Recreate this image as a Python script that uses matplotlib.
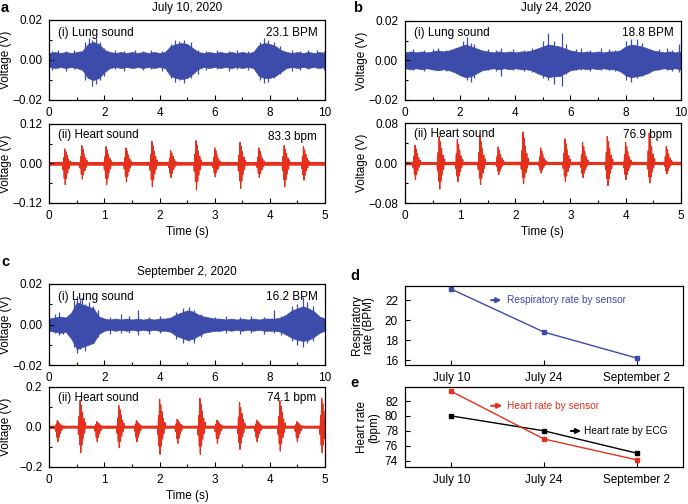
import numpy as np
import matplotlib
matplotlib.use("Agg")
import matplotlib.pyplot as plt
from matplotlib.ticker import MultipleLocator

plt.rcParams['font.family'] = ['Liberation Sans', 'DejaVu Sans']
plt.rcParams['font.size'] = 8.5
plt.rcParams['axes.linewidth'] = 0.9

BLUE = '#3D4BAA'
RED = '#E5301E'

# ---------------- data ----------------
env_t = np.round(np.arange(0, 10.01, 0.2), 2)  # envelope sample times (s)

lung_a_up = [.0035, .004, .0035, .004, .0035, .004, .0045, .008, .009, .008, .005, .004, .0035, .004, .0035, .004,
             .0035, .004, .0035, .004, .0035, .004, .007, .008, .0085, .008, .006, .004, .0035, .004, .0035, .004,
             .0035, .004, .0035, .004, .0035, .004, .0075, .0085, .008, .007, .005, .004, .0035, .004, .0035, .004,
             .0035, .004, .0035]
lung_a_dn = [-.0035, -.004, -.0035, -.004, -.0035, -.004, -.005, -.009, -.010, -.009, -.006, -.004, -.0035, -.004,
             -.0035, -.004, -.0035, -.004, -.0035, -.004, -.0035, -.004, -.008, -.009, -.0095, -.009, -.007, -.0045,
             -.0035, -.004, -.0035, -.004, -.0035, -.004, -.0035, -.004, -.0035, -.004, -.008, -.009, -.009, -.008,
             -.006, -.004, -.0035, -.004, -.0035, -.004, -.0035, -.004, -.0035]
lung_a_spk_t = [0.1, 0.3, 0.6, 0.9, 1.3, 1.45, 1.55, 1.7, 1.85, 2.0, 2.4, 2.7, 3.1, 3.4, 3.7, 4.1, 4.4, 4.55, 4.7,
                4.9, 5.15, 5.4, 5.7, 6.1, 6.5, 6.8, 7.2, 7.65, 7.8, 7.95, 8.15, 8.35, 8.8, 9.1, 9.4, 9.7, 9.95]
lung_a_spk_hi = [.0045, .005, .0045, .005, .009, .011, .010, .011, .009, .006, .005, .0045, .005, .0045, .005, .0045,
                 .008, .010, .0095, .010, .009, .005, .0045, .005, .0045, .005, .0045, .009, .011, .010, .009, .007,
                 .005, .0045, .005, .005, .0045]
lung_a_spk_lo = [-.005, -.004, -.0055, -.0045, -.010, -.008, -.013, -.012, -.010, -.008, -.0045, -.0055, -.004,
                 -.005, -.0045, -.0055, -.009, -.011, -.010, -.0115, -.009, -.007, -.005, -.0045, -.0055, -.0045,
                 -.005, -.010, -.0115, -.011, -.009, -.007, -.0055, -.005, -.0045, -.004, -.005]

lung_b_up = [.004, .0045, .004, .0045, .004, .0045, .005, .0045, .005, .006, .007, .008, .007, .006, .005, .0045, .004,
             .0045, .004, .0045, .004, .0045, .0045, .005, .006, .007, .008, .0075, .007, .006, .005, .0045, .004, .0045,
             .004, .0045, .004, .0045, .0045, .005, .007, .008, .0075, .007, .006, .005, .0045, .004, .0045, .004, .0045]
lung_b_dn = [-.004, -.0045, -.004, -.0045, -.004, -.0045, -.005, -.0045, -.005, -.006, -.0075, -.0085, -.008, -.0065,
             -.005, -.0045, -.004, -.0045, -.004, -.0045, -.004, -.0045, -.0045, -.005, -.0065, -.0075, -.0085, -.008,
             -.008, -.0065, -.005, -.0045, -.004, -.0045, -.004, -.0045, -.004, -.0045, -.0045, -.0055, -.0075, -.0085,
             -.008, -.0075, -.0065, -.005, -.0045, -.004, -.0045, -.004, -.0045]
lung_b_spk_t = [0.3, 0.7, 1.0, 1.2, 1.5, 2.1, 2.25, 2.4, 2.5, 3.0, 3.3, 3.5, 3.9, 4.3, 4.6, 5.0, 5.2, 5.4, 5.7, 5.85,
                6.2, 6.4, 6.7, 7.1, 7.4, 7.6, 8.0, 8.2, 8.4, 8.6, 9.2, 9.5, 9.7, 9.95]
lung_b_spk_hi = [.0055, .005, .0055, .006, .005, .010, .012, .009, .008, .0055, .005, .006, .0055, .005, .006, .010,
                 .014, .010, .014, .008, .0055, .006, .005, .006, .0055, .005, .010, .011, .011, .009, .0055, .006,
                 .005, .008]
lung_b_spk_lo = [-.005, -.0055, -.005, -.005, -.0055, -.008, -.010, -.011, -.009, -.005, -.0055, -.008, -.005, -.0055,
                 -.006, -.009, -.010, -.012, -.013, -.007, -.005, -.005, -.0055, -.005, -.005, -.0055, -.010, -.011,
                 -.009, -.008, -.005, -.005, -.0055, -.006]

lung_c_up = [.003, .0035, .004, .0035, .006, .011, .010, .009, .008, .004, .003, .0025, .003, .0025, .003, .0025, .003,
             .0025, .003, .0025, .003, .003, .0035, .005, .006, .007, .0065, .005, .004, .0035, .003, .003, .0025, .003,
             .0025, .003, .0025, .003, .0025, .003, .003, .003, .0035, .005, .007, .008, .009, .008, .0065, .004, .003]
lung_c_dn = [-.003, -.0035, -.004, -.0035, -.007, -.012, -.011, -.010, -.009, -.0045, -.003, -.0025, -.003, -.0025,
             -.003, -.0025, -.003, -.0025, -.003, -.0025, -.003, -.003, -.0035, -.0055, -.0065, -.0075, -.007, -.0055,
             -.004, -.0035, -.003, -.003, -.0025, -.003, -.0025, -.003, -.0025, -.003, -.0025, -.003, -.003, -.003,
             -.0035, -.005, -.0065, -.0075, -.008, -.0075, -.006, -.004, -.003]
lung_c_spk_t = [0.2, 0.35, 0.5, 0.9, 1.0, 1.1, 1.2, 1.3, 1.45, 1.6, 1.75, 2.2, 2.6, 2.9, 3.2, 3.6, 4.0, 4.6, 4.85, 5.05,
                5.25, 5.5, 6.0, 6.4, 6.9, 7.3, 7.8, 8.15, 8.4, 8.8, 9.0, 9.2, 9.35, 9.55]
lung_c_spk_hi = [.005, .006, .004, .012, .0143, .012, .013, .010, .011, .009, .007, .004, .005, .0045, .007, .004, .0045,
                 .006, .008, .0085, .007, .005, .004, .0045, .004, .0045, .004, .007, .0045, .009, .010, .0135, .011, .009]
lung_c_spk_lo = [-.004, -.005, -.0045, -.011, -.014, -.012, -.010, -.013, -.009, -.008, -.006, -.0045, -.004, -.004,
                 -.005, -.0045, -.004, -.007, -.009, -.008, -.009, -.006, -.003, -.004, -.0045, -.004, -.0045, -.004,
                 -.005, -.008, -.010, -.011, -.009, -.008]

noise_t = np.round(np.arange(0, 5.01, 0.5), 2)
heart_a_noise = [.006, .0055, .006, .0055, .006, .0055, .006, .0055, .006, .0055, .006]
heart_a_t = [0.28, 0.59, 1.03, 1.39, 1.86, 2.20, 2.66, 3.00, 3.46, 3.80, 4.26, 4.61]
heart_a_up = [.044, .054, .051, .047, .067, .039, .069, .047, .064, .047, .054, .051]
heart_a_dn = [-.065, -.048, -.065, -.056, -.071, -.043, -.079, -.041, -.076, -.043, -.071, -.051]

heart_b_noise = [.0035, .003, .0035, .003, .0035, .003, .0035, .003, .0035, .003, .0035]
heart_b_t = [0.18, 0.62, 0.95, 1.36, 1.69, 2.14, 2.46, 2.90, 3.22, 3.67, 4.00, 4.43, 4.74]
heart_b_up = [.035, .053, .047, .053, .032, .062, .030, .048, .041, .053, .041, .060, .033]
heart_b_dn = [-.033, -.052, -.037, -.043, -.023, -.041, -.020, -.037, -.029, -.045, -.033, -.040, -.022]

heart_c_noise = [.008, .007, .008, .007, .008, .007, .008, .007, .008, .007, .008]
heart_c_t = [0.145, 0.56, 0.86, 1.26, 1.58, 2.00, 2.32, 2.73, 3.04, 3.45, 3.76, 4.18, 4.49, 4.94]
heart_c_up = [.030, .133, .025, .105, .030, .137, .037, .142, .033, .120, .033, .130, .025, .142]
heart_c_dn = [-.075, -.130, -.075, -.105, -.075, -.138, -.083, -.138, -.083, -.113, -.075, -.122, -.075, -.130]

# heart-sound burst template (offsets in s, fraction of peak, alternating up/down)
burst_dt = [-0.03, -0.018, -0.008, 0.0, 0.01, 0.02, 0.03, 0.042, 0.055, 0.068, 0.08, 0.095]
burst_frac = [0.3, 0.4, 0.7, 1.0, 1.0, 0.8, 0.7, 0.55, 0.45, 0.3, 0.25, 0.15]

dates = ['July 10', 'July 24', 'September 2']
resp_rate = [23.1, 18.8, 16.2]
hr_sensor = [83.3, 76.9, 74.1]
hr_ecg = [80.0, 78.0, 75.0]

# ---------------- figure ----------------
W, H = 688, 504
fig = plt.figure(figsize=(W / 100, H / 100), dpi=100)


def box(x0, y0, x1, y1):
    return fig.add_axes([x0 / W, 1 - y1 / H, (x1 - x0) / W, (y1 - y0) / H])


def style(ax):
    ax.tick_params(which='both', direction='in', top=False, right=False, pad=5, labelsize=8.5, width=0.8)
    ax.tick_params(which='major', length=3.5)
    ax.tick_params(which='minor', length=2)


def lung(ax, up, dn, st, sh, sl, label, rate):
    ax.fill_between(env_t, dn, up, color=BLUE, lw=0.5)
    ax.vlines(st, sl, sh, color=BLUE, lw=0.9)
    ax.set_xlim(0, 10)
    ax.set_ylim(-0.02, 0.02)
    ax.set_xticks([0, 2, 4, 6, 8, 10])
    ax.xaxis.set_minor_locator(MultipleLocator(1))
    ax.set_yticks([-0.02, 0, 0.02], ['\u22120.02', '0.00', '0.02'])
    ax.yaxis.set_minor_locator(MultipleLocator(0.01))
    ax.set_ylabel('Voltage (V)')
    ax.yaxis.set_label_coords(-0.134, 0.5)
    ax.text(0.033, 0.84, label, transform=ax.transAxes, ha='left', va='center')
    ax.text(0.975, 0.84, rate, transform=ax.transAxes, ha='right', va='center')
    style(ax)


def heart(ax, noise, bt, bu, bd, lim, ticklabels, label, rate, ry):
    ax.fill_between(noise_t, [-v for v in noise], noise, color=RED, lw=0)
    for t, u, d in zip(bt, bu, bd):
        xs = [t + dt for dt in burst_dt]
        ys = [f * (u if i % 2 == 1 else d) for i, f in enumerate(burst_frac)]
        ax.plot([xs[0] - 0.01] + xs + [xs[-1] + 0.01], [0] + ys + [0], color=RED, lw=0.9)
    ax.set_xlim(0, 5)
    ax.set_ylim(-lim, lim)
    ax.set_xticks([0, 1, 2, 3, 4, 5])
    ax.xaxis.set_minor_locator(MultipleLocator(0.5))
    ax.set_yticks([-lim, 0, lim], ticklabels)
    ax.yaxis.set_minor_locator(MultipleLocator(lim / 2))
    ax.set_ylabel('Voltage (V)')
    ax.yaxis.set_label_coords(-0.134, 0.5)
    ax.set_xlabel('Time (s)', labelpad=3)
    ax.text(0.033, 0.86, label, transform=ax.transAxes, ha='left', va='center')
    ax.text(0.97, ry, rate, transform=ax.transAxes, ha='right', va='center')
    style(ax)


ax_al = box(49.3, 20, 325, 100)
lung(ax_al, lung_a_up, lung_a_dn, lung_a_spk_t, lung_a_spk_hi, lung_a_spk_lo, '(i) Lung sound', '23.1 BPM')
ax_ah = box(49.3, 124, 325, 202.7)
heart(ax_ah, heart_a_noise, heart_a_t, heart_a_up, heart_a_dn, 0.12, ['\u22120.12', '0.00', '0.12'],
      '(ii) Heart sound', '83.3 bpm', 0.83)

ax_bl = box(405, 20.7, 680.7, 100)
lung(ax_bl, lung_b_up, lung_b_dn, lung_b_spk_t, lung_b_spk_hi, lung_b_spk_lo, '(i) Lung sound', '18.8 BPM')
ax_bh = box(405, 123, 680.7, 203)
heart(ax_bh, heart_b_noise, heart_b_t, heart_b_up, heart_b_dn, 0.08, ['\u22120.08', '0.00', '0.08'],
      '(ii) Heart sound', '76.9 bpm', 0.85)

ax_cl = box(49.3, 284, 325, 365.3)
lung(ax_cl, lung_c_up, lung_c_dn, lung_c_spk_t, lung_c_spk_hi, lung_c_spk_lo, '(i) Lung sound', '16.2 BPM')
ax_ch = box(49.3, 386.7, 325, 466.7)
heart(ax_ch, heart_c_noise, heart_c_t, heart_c_up, heart_c_dn, 0.2, ['\u22120.2', '0.0', '0.2'],
      '(ii) Heart sound', '74.1 bpm', 0.855)

ANN = 7.3
arrow_kw = dict(arrowstyle='-|>', lw=1.5, mutation_scale=7, shrinkA=0, shrinkB=0)

# panel d
ax_d = box(405, 285.7, 683, 365)
xi = np.arange(len(dates))
ax_d.plot(xi, resp_rate, color=BLUE, lw=1.0, marker='s', ms=2.5)
ax_d.set_xlim(-0.5, 2.5)
ax_d.set_ylim(15.5, 23.45)
ax_d.set_yticks([16, 18, 20, 22])
ax_d.set_xticks(xi, dates)
ax_d.set_ylabel('Respiratory\nrate (BPM)', linespacing=1.0)
ax_d.yaxis.set_label_coords(-0.108, 0.5)
ax_d.annotate('', xy=(0.54, 22.0), xytext=(0.43, 22.0), arrowprops=dict(color=BLUE, **arrow_kw))
ax_d.text(0.6, 22.0, 'Respiratory rate by sensor', color=BLUE, ha='left', va='center', fontsize=ANN)
style(ax_d)

# panel e
ax_e = box(405, 387.3, 683, 467.3)
ax_e.plot(xi, hr_ecg, color='black', lw=1.0, marker='s', ms=2.5)
ax_e.plot(xi, hr_sensor, color=RED, lw=1.0, marker='s', ms=2.5)
ax_e.set_xlim(-0.5, 2.5)
ax_e.set_ylim(73.1, 83.85)
ax_e.set_yticks([74, 76, 78, 80, 82])
ax_e.set_xticks(xi, dates)
ax_e.set_ylabel('Heart rate\n(bpm)', linespacing=1.0)
ax_e.yaxis.set_label_coords(-0.09, 0.5)
ax_e.annotate('', xy=(0.55, 81.37), xytext=(0.43, 81.37), arrowprops=dict(color=RED, **arrow_kw))
ax_e.text(0.6, 81.37, 'Heart rate by sensor', color=RED, ha='left', va='center', fontsize=ANN)
ax_e.annotate('', xy=(1.40, 77.98), xytext=(1.29, 77.98), arrowprops=dict(color='black', **arrow_kw))
ax_e.text(1.43, 77.98, 'Heart rate by ECG', color='black', ha='left', va='center', fontsize=ANN)
style(ax_e)

# titles and panel letters
fig.text(187 / W, 1 - 8 / H, 'July 10, 2020', ha='center', va='center', fontsize=8.5)
fig.text(555.7 / W, 1 - 8 / H, 'July 24, 2020', ha='center', va='center', fontsize=8.5)
fig.text(186.7 / W, 1 - 271.7 / H, 'September 2, 2020', ha='center', va='center', fontsize=8.5)
for letter, x, y in [('a', 1, 8), ('b', 353, 8), ('c', 1, 262), ('d', 350, 276), ('e', 350, 383)]:
    fig.text(x / W, 1 - y / H, letter, ha='left', va='center', fontsize=10.5, fontweight='bold')

fig.savefig('out.png', dpi=100)
